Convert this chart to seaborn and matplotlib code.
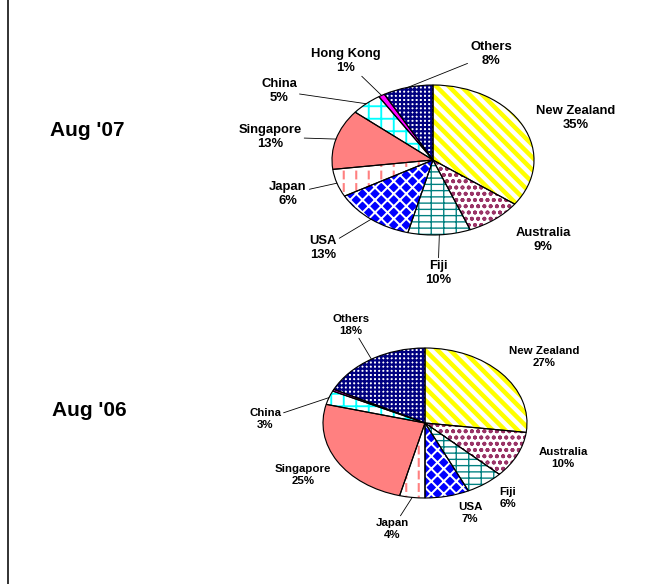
import numpy as np
import matplotlib
matplotlib.use("Agg")
import matplotlib.pyplot as plt
import seaborn as sns

# ---------------- data ----------------
countries = ["New Zealand", "Australia", "Fiji", "USA", "Japan",
             "Singapore", "China", "Hong Kong", "Others"]
share_aug07 = [35, 9, 10, 13, 6, 13, 5, 1, 8]
share_aug06 = [27, 10, 6, 7, 4, 25, 3, 0.4, 17.6]
period_labels = ["Aug '07", "Aug '06"]
labelled_aug07 = [True, True, True, True, True, True, True, True, True]
labelled_aug06 = [True, True, True, True, True, True, True, False, True]

# ---------------- styles / layout ----------------
W, H, DPI = 670, 584, 75
sns.set_theme(style="white")
plt.rcParams["font.family"] = ["Liberation Sans", "DejaVu Sans"]

styles = {
    "New Zealand": dict(face="white", hatch="\\\\", hcolor="#FFFF00", hlw=4.3),
    "Australia":   dict(face="white", hatch="oo", hcolor="#993366", hlw=1.4),
    "Fiji":        dict(face="white", hatch="--|", hcolor="#008080", hlw=1.3),
    "USA":         dict(face="#0000FF", hatch="xx", hcolor="white", hlw=1.9),
    "Japan":       dict(face="white", hatch="|", hcolor="#FF8080", hlw=2.0,
                        over="-", ocolor="white", olw=3.5),
    "Singapore":   dict(face="#FF8080", hatch=None),
    "China":       dict(face="white", hatch="+", hcolor="#00FFFF", hlw=1.8),
    "Hong Kong":   dict(face="#FF00FF", hatch=None),
    "Others":      dict(face="white", hatch="+++", hcolor="#000080", hlw=2.1),
}

# pie ellipse centres / radii in pixels (x right, y down)
pie_geom = [dict(cx=433, cy=160, rx=101, ry=75),
            dict(cx=425, cy=423, rx=102, ry=75)]
label_pos = [
    [(576, 118), (543, 240), (438, 273), (323, 248), (288, 194),
     (270, 137), (279, 91), (346, 61), (491, 54)],
    [(544, 357), (563, 458), (508, 498), (470, 513), (392, 529),
     (303, 475), (265, 419), None, (351, 325)],
]
leader = [
    [False, False, True, True, True, True, True, True, True],
    [False, False, False, False, True, False, True, False, True],
]
label_fs = [12.5, 11]
period_pos = [(87, 131), (89, 411)]

fig = plt.figure(figsize=(W / DPI, H / DPI), dpi=DPI)
fig.patch.set_facecolor("white")

PAD = 1.06


def draw_pie(geom, values):
    cx, cy, rx, ry = geom["cx"], geom["cy"], geom["rx"], geom["ry"]
    ax = fig.add_axes([(cx - rx * PAD) / W, 1 - (cy + ry * PAD) / H,
                       2 * rx * PAD / W, 2 * ry * PAD / H])
    kw = dict(startangle=90, counterclock=False, radius=1, frame=False)
    base, _ = ax.pie(values, **kw)
    for w, name in zip(base, countries):
        st = styles[name]
        w.set_facecolor(st["face"])
        if st["hatch"]:
            w.set_hatch(st["hatch"])
            w.set_edgecolor(st["hcolor"])
            w.set_hatch_linewidth(st["hlw"])
        else:
            w.set_edgecolor(st["face"])
        w.set_linewidth(0)
    over, _ = ax.pie(values, **kw)
    for w, name in zip(over, countries):
        st = styles[name]
        if "over" in st:
            w.set_facecolor("none")
            w.set_hatch(st["over"])
            w.set_edgecolor(st["ocolor"])
            w.set_hatch_linewidth(st["olw"])
            w.set_linewidth(0)
        else:
            w.set_visible(False)
    ax.pie(values, **kw,
           wedgeprops=dict(facecolor="none", edgecolor="black", linewidth=1.1))
    ax.set_aspect("auto")
    ax.set_xlim(-PAD, PAD)
    ax.set_ylim(-PAD, PAD)
    ax.axis("off")
    return ax


pie_axes = [draw_pie(pie_geom[0], share_aug07),
            draw_pie(pie_geom[1], share_aug06)]

lay = fig.add_axes([0, 0, 1, 1])
lay.set_xlim(0, W)
lay.set_ylim(H, 0)
lay.axis("off")

# left frame line
lay.plot([8, 8], [0, H], color="black", lw=1.5, solid_capstyle="butt")

for k, (ax, values, labelled) in enumerate(
        zip(pie_axes, [share_aug07, share_aug06], [labelled_aug07, labelled_aug06])):
    vals = np.asarray(values, dtype=float)
    total = vals.sum()
    before = np.concatenate([[0], np.cumsum(vals)[:-1]])
    for i, name in enumerate(countries):
        if not labelled[i]:
            continue
        theta = np.deg2rad(90 - 360 * (before[i] + vals[i] / 2) / total)
        xy = (np.cos(theta), np.sin(theta))
        txt = f"{name}\n{round(vals[i] / total * 100)}%"
        tx, ty = label_pos[k][i]
        tkw = dict(ha="center", va="center", fontsize=label_fs[k],
                   fontweight="bold", color="black", linespacing=1.15,
                   multialignment="center")
        if leader[k][i]:
            lay.annotate(txt, xy=xy, xycoords=ax.transData,
                         xytext=(tx, ty), textcoords=lay.transData,
                         arrowprops=dict(arrowstyle="-", color="black", lw=0.8,
                                         shrinkA=0, shrinkB=0),
                         **tkw)
        else:
            lay.text(tx, ty, txt, **tkw)

for (px, py), lab in zip(period_pos, period_labels):
    lay.text(px, py, lab, ha="center", va="center", fontsize=20,
             fontweight="bold", color="black")

fig.savefig("out.png", dpi=DPI, facecolor="white")
